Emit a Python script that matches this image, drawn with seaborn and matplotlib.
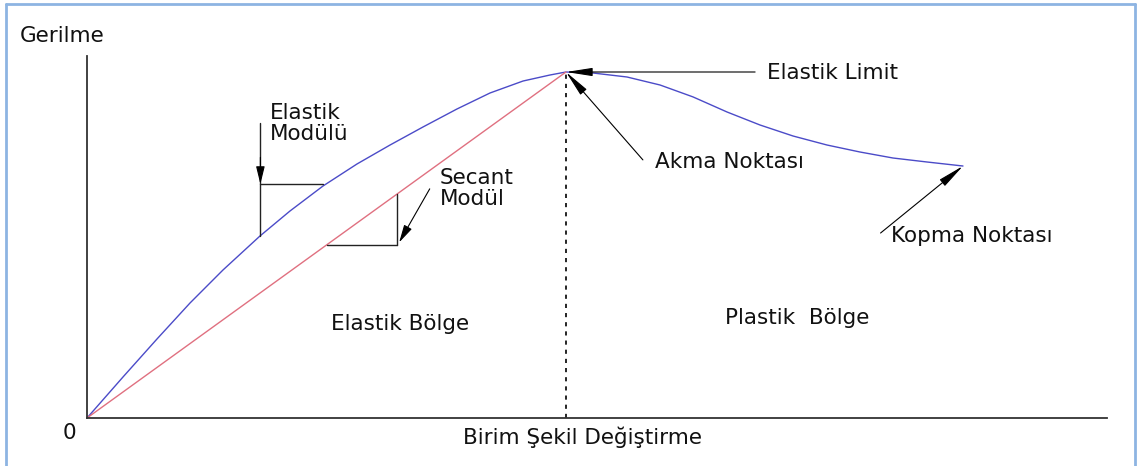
import matplotlib
matplotlib.use("Agg")
import matplotlib.pyplot as plt
import seaborn as sns

# stress-strain curve (x: strain, y: stress, arbitrary units 0..10)
strain = [0.0, 0.353, 0.686, 1.010, 1.333, 1.696, 1.990, 2.314, 2.647, 2.971, 3.294,
          3.627, 3.951, 4.275, 4.539, 4.696,
          4.961, 5.294, 5.618, 5.941, 6.275, 6.598, 6.922, 7.255, 7.578, 7.902, 8.235, 8.588]
stress = [0.0, 1.133, 2.182, 3.177, 4.088, 5.028, 5.718, 6.409, 7.017, 7.541, 8.039,
          8.536, 8.978, 9.309, 9.475, 9.558,
          9.530, 9.420, 9.199, 8.870, 8.453, 8.094, 7.790, 7.541, 7.348, 7.182, 7.072, 6.961]

# secant line: origin to elastic limit
secant_x = [0.0, 4.696]
secant_y = [0.0, 9.558]

# tangent (elastic modulus) construction
tangent_vx = [1.70, 1.70]
tangent_vy = [8.15, 5.03]
tangent_hx = [1.70, 2.31]
tangent_hy = [6.46, 6.46]

# secant modulus construction
sec_vx = [3.04, 3.04]
sec_vy = [6.18, 4.78]
sec_hx = [2.35, 3.04]
sec_hy = [4.78, 4.78]

peak = (4.696, 9.558)
rupture = (8.588, 6.961)

sns.set_style("white")
plt.rcParams['font.family'] = ['DejaVu Sans']

fig = plt.figure(figsize=(11.38, 4.66), dpi=100)
ax = fig.add_axes([87 / 1138, 48 / 466, 1020 / 1138, 362 / 466])

sns.lineplot(x=strain, y=stress, ax=ax, color='#4b4bc8', linewidth=1.0, sort=False, estimator=None)
sns.lineplot(x=secant_x, y=secant_y, ax=ax, color='#e07080', linewidth=1.0, estimator=None)

ax.plot([peak[0], peak[0]], [0, peak[1]], color='black', lw=1.2, linestyle=(0, (2.5, 3)))

line_kw = dict(color='#222222', lw=1.0)
ax.plot(tangent_vx, tangent_vy, **line_kw)
ax.plot(tangent_hx, tangent_hy, **line_kw)
ax.plot(sec_vx, sec_vy, **line_kw)
ax.plot(sec_hx, sec_hy, **line_kw)

arrow = dict(arrowstyle='-|>,head_length=0.9,head_width=0.14', color='black', lw=0.8,
             mutation_scale=18, shrinkA=0, shrinkB=0)
arrow_small = dict(arrow, mutation_scale=12, arrowstyle='-|>,head_length=0.9,head_width=0.22')
# arrowheads on the construction lines
ax.annotate('', xy=(1.70, 6.46), xytext=(1.70, 7.2), arrowprops=arrow_small)
ax.annotate('', xy=(3.06, 4.85), xytext=(3.36, 6.33), arrowprops=arrow_small)
# point annotations
ax.annotate('', xy=peak, xytext=(6.55, 9.558), arrowprops=arrow)
ax.annotate('', xy=peak, xytext=(5.45, 7.13), arrowprops=arrow)
ax.annotate('', xy=rupture, xytext=(7.78, 5.11), arrowprops=arrow)

fs = 15.5
tc = '#111111'
ax.text(-0.66, 10.55, 'Gerilme', fontsize=fs, color=tc, ha='left', va='center', clip_on=False)
ax.text(1.79, 8.13, 'Elastik\nModülü', fontsize=fs, color=tc, ha='left', va='center', linespacing=1.05)
ax.text(3.46, 6.34, 'Secant\nModül', fontsize=fs, color=tc, ha='left', va='center', linespacing=1.05)
ax.text(6.67, 9.53, 'Elastik Limit', fontsize=fs, color=tc, ha='left', va='center')
ax.text(5.57, 7.07, 'Akma Noktası', fontsize=fs, color=tc, ha='left', va='center')
ax.text(7.88, 5.03, 'Kopma Noktası', fontsize=fs, color=tc, ha='left', va='center')
ax.text(3.07, 2.60, 'Elastik Bölge', fontsize=fs, color=tc, ha='center', va='center')
ax.text(6.96, 2.76, 'Plastik  Bölge', fontsize=fs, color=tc, ha='center', va='center')
ax.text(-0.17, -0.41, '0', fontsize=fs, color=tc, ha='center', va='center', clip_on=False)
ax.text(4.86, -0.52, 'Birim Şekil Değiştirme', fontsize=fs, color=tc, ha='center', va='center', clip_on=False)

ax.set_xlim(0, 10)
ax.set_ylim(0, 10)
ax.set_xticks([])
ax.set_yticks([])
ax.set_xlabel('')
ax.set_ylabel('')
sns.despine(ax=ax)
for side in ['left', 'bottom']:
    ax.spines[side].set_color('#333333')
    ax.spines[side].set_linewidth(1.3)

# light blue frame around the picture
bc = '#8db4e2'
fig.add_artist(plt.Line2D([6 / 1138, 6 / 1138], [0, 1 - 4 / 466], color=bc, lw=2, transform=fig.transFigure))
fig.add_artist(plt.Line2D([6 / 1138, 1135 / 1138], [1 - 4 / 466, 1 - 4 / 466], color=bc, lw=2, transform=fig.transFigure))
fig.add_artist(plt.Line2D([1135 / 1138, 1135 / 1138], [0, 1 - 4 / 466], color=bc, lw=2, transform=fig.transFigure))

fig.savefig('out.png', dpi=100)
